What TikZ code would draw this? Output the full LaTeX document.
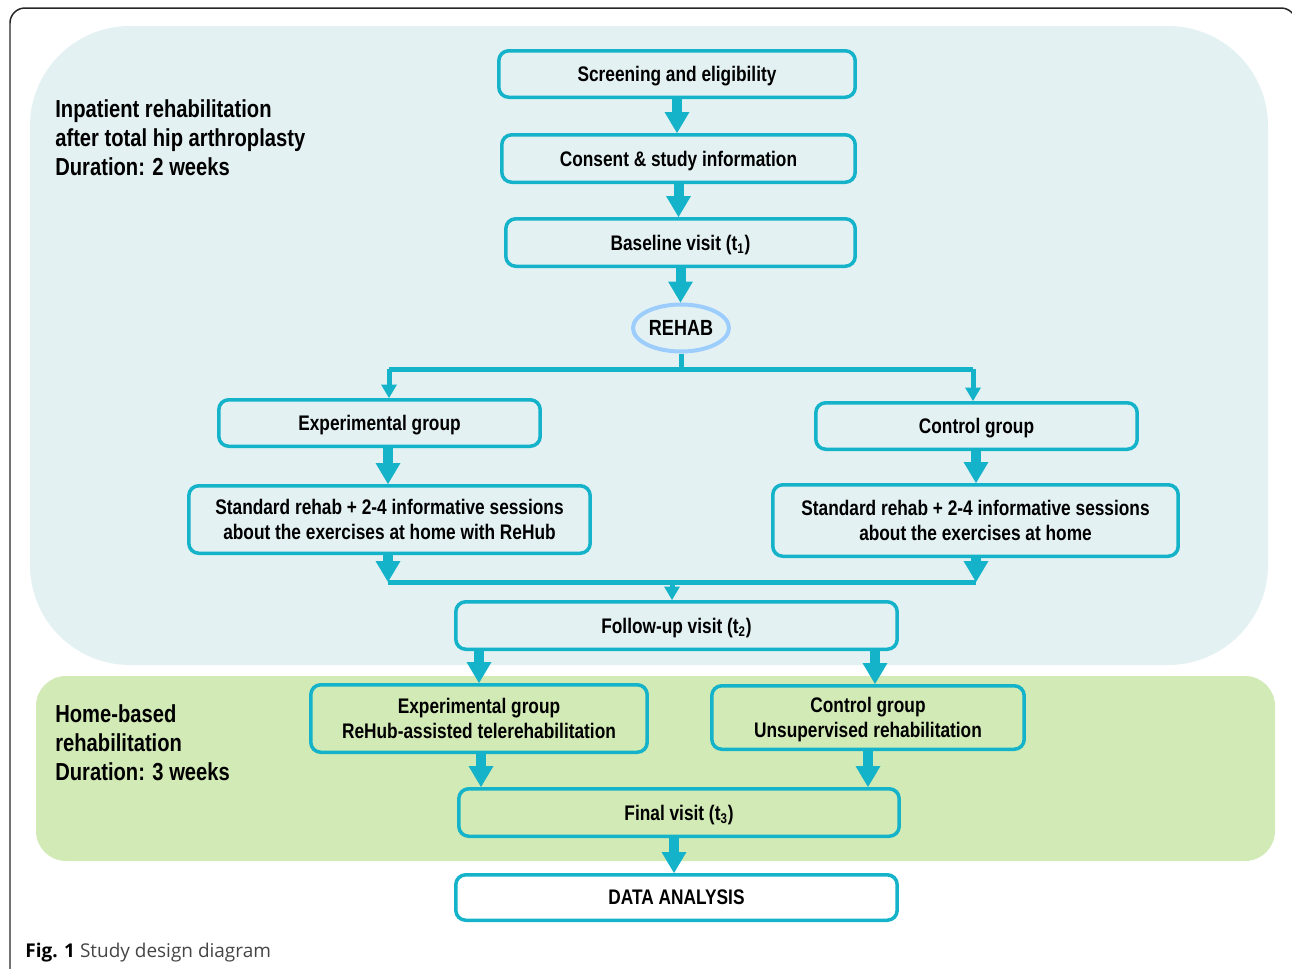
\documentclass[tikz,border=0pt]{standalone}
\usepackage{fontspec}
\setmainfont{Liberation Sans}
\newfontfamily\narrowfont[FakeStretch=0.82]{Liberation Sans}
\newfontfamily\capfont{Open Sans}
\usetikzlibrary{arrows.meta,shapes.geometric}

\definecolor{boxline}{HTML}{14B3C9}
\definecolor{rehabline}{HTML}{9CCDFD}
\definecolor{inpatbg}{HTML}{E3F1F3}
\definecolor{homebg}{HTML}{D2EAB6}
\definecolor{capgray}{HTML}{454545}

\tikzset{
    stagebox/.style={draw=boxline, line width=0.07cm, rounded corners=0.2cm,
        align=center, inner sep=0pt, text depth=0pt,
        font=\narrowfont\bfseries\fontsize{12}{14}\selectfont},
    rehabnode/.style={ellipse, draw=rehabline, line width=0.08cm, inner sep=0pt,
        text depth=0pt, font=\narrowfont\bfseries\fontsize{12.5}{14}\selectfont},
    regionlabel/.style={anchor=north west, align=left, inner sep=0pt,
        font=\narrowfont\bfseries\fontsize{14}{16.5}\selectfont},
    bigarrow/.style={draw=boxline, line width=0.2cm,
        -{Triangle[width=0.5cm,length=0.42cm,line width=0pt]}},
    smallarrow/.style={draw=boxline, line width=0.1cm,
        -{Triangle[width=0.32cm,length=0.27cm,line width=0pt]}},
    thinline/.style={draw=boxline, line width=0.1cm}
}

\begin{document}
\begin{tikzpicture}[x=0.02cm, y=-0.02cm]
    \useasboundingbox (0,0) rectangle (1292,968);
    % frame and regions
    \draw[line width=0.03cm, black!85, rounded corners=0.3cm] (10,8) rectangle (1296,1000);
    \fill[inpatbg, rounded corners=2cm] (30,26) rectangle (1268,665);
    \fill[homebg, rounded corners=0.6cm] (36,676) rectangle (1275,861);

    \node[regionlabel] (inpatLabel) at (55,99) {Inpatient rehabilitation\\after total hip arthroplasty\\Duration: 2 weeks};
    \node[regionlabel] (homeLabel) at (55,704) {Home-based\\rehabilitation\\Duration: 3 weeks};

    % stages
    \node[stagebox, minimum width=7.13cm, minimum height=0.93cm] (screen) at (677,74) {Screening and eligibility};
    \node[stagebox, minimum width=7.07cm, minimum height=0.95cm] (consent) at (678.5,158.5) {Consent \& study information};
    \node[stagebox, minimum width=6.99cm, minimum height=0.95cm] (baseline) at (680.5,242.5) {Baseline visit (t\textsubscript{1})};
    \node[rehabnode, minimum width=1.92cm, minimum height=0.94cm] (rehab) at (681,328) {REHAB};
    \node[stagebox, minimum width=6.43cm, minimum height=0.93cm] (expG) at (379.5,423) {Experimental group};
    \node[stagebox, minimum width=6.43cm, minimum height=0.93cm] (ctrlG) at (976.5,426) {Control group};
    \node[stagebox, minimum width=8.03cm, minimum height=1.35cm] (stdE) at (389.5,519.5) {Standard rehab + 2-4 informative sessions\\about the exercises at home with ReHub};
    \node[stagebox, minimum width=8.11cm, minimum height=1.43cm] (stdC) at (975.5,520.5) {Standard rehab + 2-4 informative sessions\\about the exercises at home};
    \node[stagebox, minimum width=8.83cm, minimum height=0.95cm] (follow) at (676.5,625.5) {Follow-up visit (t\textsubscript{2})};
    \node[stagebox, minimum width=6.73cm, minimum height=1.35cm] (expHome) at (479,718.5) {Experimental group\\ReHub-assisted telerehabilitation};
    \node[stagebox, minimum width=6.25cm, minimum height=1.27cm] (ctrlHome) at (868,717.5) {Control group\\Unsupervised rehabilitation};
    \node[stagebox, minimum width=8.81cm, minimum height=0.95cm] (final) at (679,812.5) {Final visit (t\textsubscript{3})};
    \node[stagebox, fill=white, minimum width=8.83cm, minimum height=0.91cm] (data) at (676.5,897.5) {DATA ANALYSIS};

    % split and merge points
    \coordinate (splitL) at (389,369);
    \coordinate (splitR) at (973,369);
    \coordinate (mergeL) at (388,582);
    \coordinate (mergeM) at (672,582);
    \coordinate (mergeR) at (976,582);

    % connectors
    \draw[bigarrow] (screen.south) -- (screen.south |- consent.north);
    \draw[bigarrow] (consent.south) -- (consent.south |- baseline.north);
    \draw[bigarrow] (baseline.south) -- (baseline.south |- rehab.north);
    \draw[thinline] (rehab.south) -- (rehab.south |- splitL);
    \draw[thinline] (splitL) -- (splitR);
    \draw[smallarrow] (splitL) -- (splitL |- expG.north);
    \draw[smallarrow] (splitR) -- (splitR |- ctrlG.north);
    \draw[bigarrow] (mergeL |- expG.south) -- (mergeL |- stdE.north);
    \draw[bigarrow] (mergeR |- ctrlG.south) -- (mergeR |- stdC.north);
    \draw[bigarrow] (mergeL |- stdE.south) -- (mergeL);
    \draw[bigarrow] (mergeR |- stdC.south) -- (mergeR);
    \draw[thinline] (mergeL) -- (mergeR);
    \draw[smallarrow] (mergeM) -- (mergeM |- follow.north);
    \draw[bigarrow] (expHome.north |- follow.south) -- (expHome.north);
    \draw[bigarrow] ([xshift=0.14cm]ctrlHome.north |- follow.south) -- ([xshift=0.14cm]ctrlHome.north);
    \draw[bigarrow] ([xshift=0.04cm]expHome.south) -- ([xshift=0.04cm]expHome.south |- final.north);
    \draw[bigarrow] (ctrlHome.south) -- (ctrlHome.south |- final.north);
    \draw[bigarrow] ([xshift=-0.1cm]final.south) -- ([xshift=-0.1cm]final.south |- data.north);

    % caption
    \node[anchor=base west, inner sep=0pt, font=\capfont\fontsize{10.8}{13}\selectfont, text=capgray] (caption) at (25,957) {\textbf{\color{black}Fig. 1} Study design diagram};
\end{tikzpicture}
\end{document}
